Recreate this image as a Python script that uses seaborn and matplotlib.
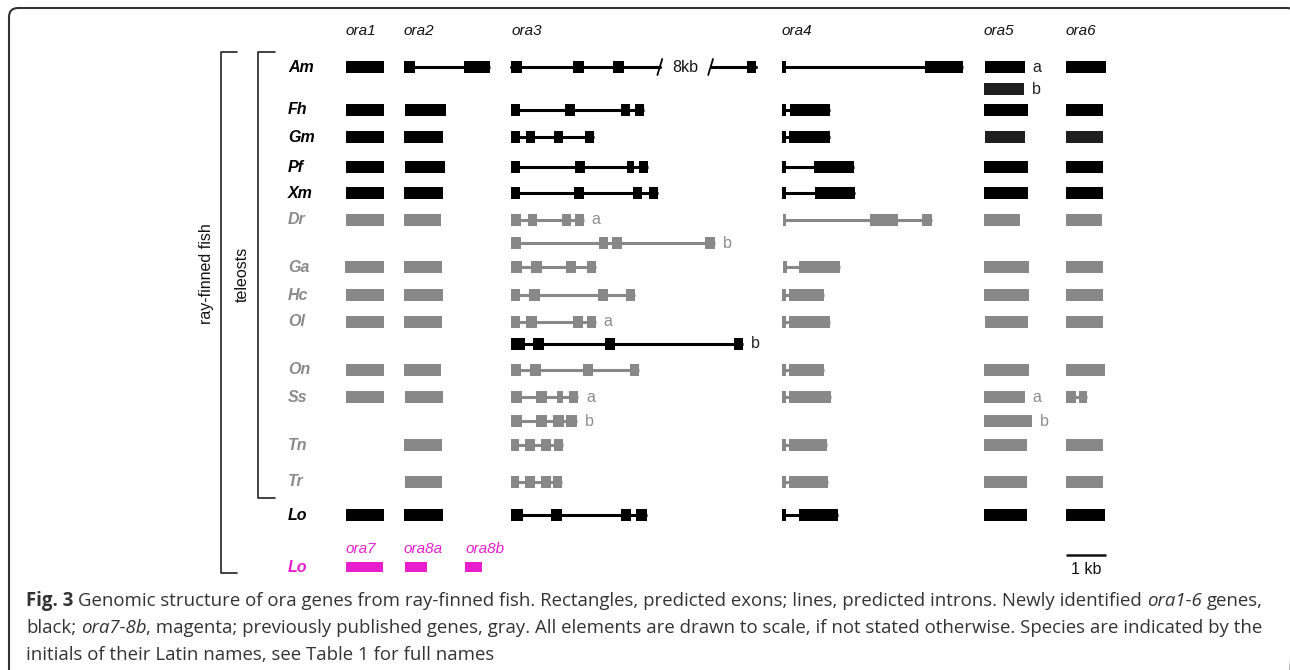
import matplotlib
matplotlib.use("Agg")
import matplotlib.pyplot as plt
from matplotlib.patches import FancyBboxPatch
import seaborn as sns

# exon coordinates, kb from the start of each gene
genes = ["ora1", "ora2", "ora3", "ora4", "ora5", "ora6"]
black_species = ["Am", "Fh", "Gm", "Pf", "Xm", "Lo"]
gray_species = ["Dr", "Ga", "Hc", "Ol", "On", "Ss", "Tn", "Tr"]

ora1 = {
    "Am": [(0, 0.95)], "Fh": [(0, 0.95)], "Gm": [(0, 0.95)], "Pf": [(0, 0.95)],
    "Xm": [(0, 0.95)], "Dr": [(0, 0.95)], "Ga": [(-0.02, 0.95)], "Hc": [(0, 0.95)],
    "Ol": [(0, 0.95)], "On": [(0, 0.95)], "Ss": [(0, 0.95)], "Lo": [(0, 0.95)],
}
ora2 = {
    "Am": [(0, 0.28), (1.5, 2.15)], "Fh": [(0.02, 1.05)], "Gm": [(0, 0.98)],
    "Pf": [(0.02, 1.02)], "Xm": [(0, 0.98)], "Dr": [(0, 0.92)], "Ga": [(0, 0.95)],
    "Hc": [(0, 0.98)], "Ol": [(0, 0.95)], "On": [(0, 0.92)], "Ss": [(0.02, 0.98)],
    "Tn": [(0, 0.95)], "Tr": [(0.02, 0.95)], "Lo": [(0, 0.98)],
}
ora3 = {
    "Am": [(0, 0.28), (1.55, 1.82), (2.55, 2.82), (5.9, 6.12)],
    "Fh": [(0, 0.22), (1.35, 1.6), (2.75, 2.98), (3.1, 3.32)],
    "Gm": [(0, 0.22), (0.38, 0.6), (1.08, 1.3), (1.85, 2.08)],
    "Pf": [(0, 0.22), (1.6, 1.85), (2.9, 3.08), (3.2, 3.42)],
    "Xm": [(0, 0.22), (1.58, 1.82), (3.05, 3.28), (3.45, 3.68)],
    "Dr": [(0, 0.25), (0.42, 0.65), (1.28, 1.5), (1.6, 1.82)],
    "Dr b": [(0, 0.25), (2.2, 2.42), (2.52, 2.78), (4.85, 5.1)],
    "Ga": [(0, 0.27), (0.5, 0.77), (1.38, 1.62), (1.9, 2.12)],
    "Hc": [(0, 0.22), (0.45, 0.72), (2.18, 2.42), (2.88, 3.1)],
    "Ol": [(0, 0.22), (0.38, 0.65), (1.55, 1.8), (1.9, 2.12)],
    "Ol b": [(0, 0.35), (0.55, 0.82), (2.35, 2.6), (5.58, 5.8)],
    "On": [(0, 0.25), (0.48, 0.75), (1.8, 2.05), (2.98, 3.2)],
    "Ss": [(0, 0.27), (0.62, 0.9), (1.15, 1.3), (1.45, 1.68)],
    "Ss b": [(0, 0.27), (0.62, 0.9), (1.05, 1.32), (1.38, 1.65)],
    "Tn": [(0, 0.2), (0.35, 0.6), (0.75, 1.0), (1.08, 1.3)],
    "Tr": [(0, 0.2), (0.35, 0.6), (0.75, 1.0), (1.05, 1.28)],
    "Lo": [(0, 0.3), (1.0, 1.28), (2.75, 3.0), (3.12, 3.4)],
}
ora4 = {
    "Am": [(0, 0.1), (3.58, 4.52)], "Fh": [(0, 0.1), (0.2, 1.2)],
    "Gm": [(0, 0.1), (0.18, 1.2)], "Pf": [(0, 0.1), (0.8, 1.8)],
    "Xm": [(0, 0.1), (0.82, 1.82)], "Dr": [(0.02, 0.1), (2.2, 2.9), (3.5, 3.75)],
    "Ga": [(0.02, 0.12), (0.42, 1.45)], "Hc": [(0, 0.1), (0.18, 1.05)],
    "Ol": [(0, 0.1), (0.18, 1.2)], "On": [(0, 0.1), (0.18, 1.05)],
    "Ss": [(0, 0.1), (0.18, 1.22)], "Tn": [(0, 0.1), (0.18, 1.12)],
    "Tr": [(0, 0.1), (0.18, 1.15)], "Lo": [(0, 0.1), (0.42, 1.4)],
}
ora5 = {
    "Am": [(0.02, 1.02)], "Am b": [(0, 1.0)], "Fh": [(0, 1.1)], "Gm": [(0.02, 1.02)],
    "Pf": [(0, 1.1)], "Xm": [(0, 1.1)], "Dr": [(0, 0.9)], "Ga": [(0, 1.12)],
    "Hc": [(0, 1.12)], "Ol": [(0.02, 1.1)], "On": [(0, 1.12)], "Ss": [(0, 1.02)],
    "Ss b": [(0, 1.2)], "Tn": [(0, 1.08)], "Tr": [(0, 1.08)], "Lo": [(0, 1.08)],
}
ora6 = {
    "Am": [(0, 1.0)], "Fh": [(0, 0.92)], "Gm": [(0, 0.92)], "Pf": [(0, 0.92)],
    "Xm": [(0, 0.92)], "Dr": [(0, 0.9)], "Ga": [(0, 0.92)], "Hc": [(0, 0.92)],
    "Ol": [(0, 0.92)], "On": [(0, 0.98)], "Ss": [(0, 0.25), (0.32, 0.52)],
    "Tn": [(0, 0.92)], "Tr": [(0, 0.92)], "Lo": [(0, 0.98)],
}
magenta_genes = ["ora7", "ora8a", "ora8b"]
magenta_exons = [[(0, 0.92)], [(0.02, 0.57)], [(0, 0.42)]]

# Am ora3 intron not to scale: (break start, break end, label)
ora3_break = (3.72, 4.99, "8kb")
tags = {("ora3", "Dr"): "a", ("ora3", "Dr b"): "b", ("ora3", "Ol"): "a",
        ("ora3", "Ol b"): "b", ("ora3", "Ss"): "a", ("ora3", "Ss b"): "b",
        ("ora5", "Am"): "a", ("ora5", "Am b"): "b", ("ora5", "Ss"): "a",
        ("ora5", "Ss b"): "b"}

caption = [
    [("Fig. 3", "bold"), (" Genomic structure of ora genes from ray-finned fish. Rectangles, "
      "predicted exons; lines, predicted introns. Newly identified ", "normal"),
     ("ora1-6", "italic"), (" genes,", "normal")],
    [("black; ", "normal"), ("ora7-8b", "italic"),
     (", magenta; previously published genes, gray. All elements are drawn to scale, "
      "if not stated otherwise. Species are indicated by the", "normal")],
    [("initials of their Latin names, see Table 1 for full names", "normal")],
]

# layout (pixels)
X0, KB = 346, 40
gene_px = {"ora1": 346, "ora2": 404, "ora3": 511, "ora4": 782, "ora5": 984,
           "ora6": 1066, "ora7": 346, "ora8a": 404, "ora8b": 465}
row_y = {"Am": 67, "Am b": 89, "Fh": 110, "Gm": 137, "Pf": 167, "Xm": 193,
         "Dr": 220, "Dr b": 243, "Ga": 267, "Hc": 295, "Ol": 322, "Ol b": 344,
         "On": 370, "Ss": 397, "Ss b": 421, "Tn": 445, "Tr": 482, "Lo": 515,
         "Lo m": 567}
BLACK, GRAY, DARK, MAG = "#000000", "#888888", "#1f1f1f", "#e61ecb"
overrides = {("ora3", "Ol b"): BLACK, ("ora5", "Am b"): DARK,
             ("ora5", "Gm"): DARK, ("ora6", "Gm"): DARK}


def kb(px):
    return (px - X0) / KB


sns.set_theme(style="white")
plt.rcParams['font.family'] = ['Liberation Sans', 'DejaVu Sans']

fig = plt.figure(figsize=(12.9, 6.7), dpi=100)
deco = fig.add_axes([0, 0, 1, 1])
deco.set_xlim(0, 1290)
deco.set_ylim(670, 0)
deco.axis("off")
ax = fig.add_axes([0, 0, 1, 1])
ax.set_xlim(kb(0), kb(1290))
ax.set_ylim(670, 0)
ax.axis("off")

# gene models
tracks = dict(zip(genes, [ora1, ora2, ora3, ora4, ora5, ora6]))
for g in genes:
    off = kb(gene_px[g])
    ax.text(off, 31, g, fontsize=11, style="italic", color="#111111",
            va="center", ha="left")
    for tr, ex in tracks[g].items():
        y = row_y[tr]
        sp = tr.split()[0]
        col = overrides.get((g, tr), BLACK if sp in black_species else GRAY)
        if len(ex) > 1:
            lo, hi = off + ex[0][0], off + ex[-1][1]
            if g == "ora3" and tr == "Am":
                b0, b1, lab = ora3_break
                ax.plot([lo, off + b0], [y, y], color=col, lw=2.2, zorder=2)
                ax.plot([off + b1, hi], [y, y], color=col, lw=2.2, zorder=2)
                for b in (b0, b1):
                    ax.plot([off + b - 0.06, off + b + 0.06], [y + 8, y - 8],
                            color=col, lw=1.3, zorder=2)
                ax.text(off + (b0 + b1) / 2, y, lab, fontsize=11.5, color="#111111",
                        ha="center", va="center")
            else:
                ax.plot([lo, hi], [y, y], color=col, lw=2.2, zorder=2,
                        solid_capstyle="butt")
        ax.barh([y] * len(ex), [e - s for s, e in ex],
                left=[off + s for s, e in ex], height=12, color=col,
                linewidth=0, zorder=3)
        if (g, tr) in tags:
            tcol = "#8c8c8c" if col == GRAY else "#222222"
            ax.text(off + ex[-1][1] + 0.2, y, tags[(g, tr)], fontsize=11.5,
                    color=tcol, ha="left", va="center")

for g, ex in zip(magenta_genes, magenta_exons):
    off = kb(gene_px[g])
    y = row_y["Lo m"]
    ax.barh([y] * len(ex), [e - s for s, e in ex], left=[off + s for s, e in ex],
            height=10, color=MAG, linewidth=0, zorder=3)
    ax.text(off, 549, g, fontsize=11, style="italic", color=MAG,
            ha="left", va="center")

# scale bar
sb0 = kb(gene_px["ora6"])
ax.plot([sb0, sb0 + 1], [555, 555], color="#111111", lw=1.8, solid_capstyle="butt")
ax.text(sb0 + 0.5, 569, "1 kb", fontsize=11.5, color="#111111",
        ha="center", va="center")

# species labels
for sp in black_species + gray_species:
    deco.text(288, row_y[sp], sp, fontsize=11.5, weight="bold", style="italic",
              color=BLACK if sp in black_species else "#8a8a8a",
              ha="left", va="center")
deco.text(288, row_y["Lo m"], "Lo", fontsize=11.5, weight="bold", style="italic",
          color=MAG, ha="left", va="center")

# clade brackets
BR = "#222222"
deco.plot([237, 221, 221, 237], [52, 52, 573, 573], color=BR, lw=1.2)
deco.plot([275, 258, 258, 275], [52, 52, 498, 498], color=BR, lw=1.2)
deco.text(206, 274, "ray-finned fish", rotation=90, fontsize=11.5, color="#111111",
          ha="center", va="center")
deco.text(242, 274, "teleosts", rotation=90, fontsize=11.5, color="#111111",
          ha="center", va="center")

# frame (right and bottom edges fall outside the picture)
deco.add_patch(FancyBboxPatch((9, 8), 1287, 700, boxstyle="round,pad=0,rounding_size=9",
                              fill=False, ec="#333333", lw=1.5))

# caption with mixed styles
renderer = fig.canvas.get_renderer()
CAP = "#333333"
styles = {"normal": dict(weight="normal", style="normal"),
          "bold": dict(weight="bold", style="normal"),
          "italic": dict(weight="normal", style="italic")}


def width(s, size, **kw):
    t = deco.text(0, 0, s, fontsize=size, family="Open Sans", **kw)
    w = t.get_window_extent(renderer).width
    t.remove()
    return w


full1 = "".join(s for s, _ in caption[0])
csize = 12 * 1226 / width(full1, 12)
space = width("a a", csize) - width("aa", csize)
for line, yb in zip(caption, [606, 633, 660]):
    x = 26
    for txt, st in line:
        core = txt.strip(" ")
        x += (len(txt) - len(txt.lstrip(" "))) * space
        t = deco.text(x, yb, core, fontsize=csize, family="Open Sans", color=CAP,
                      ha="left", va="baseline", **styles[st])
        x += t.get_window_extent(renderer).width
        x += (len(txt) - len(txt.rstrip(" "))) * space

fig.savefig("out.png", dpi=100)
